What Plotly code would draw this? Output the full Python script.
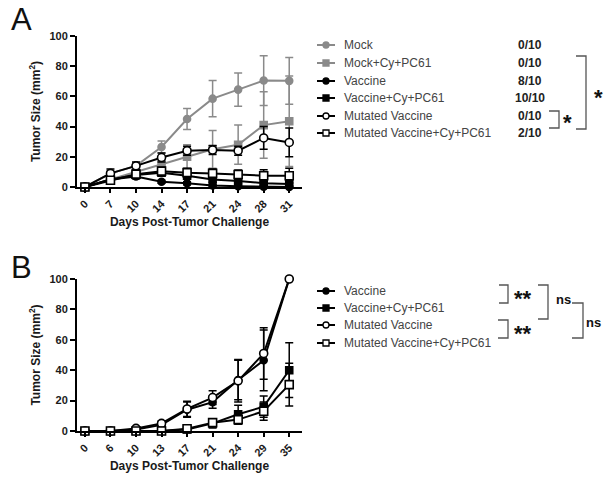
import plotly.graph_objects as go

# ---------------- Data ----------------
days_a = ["0", "7", "10", "14", "17", "21", "24", "28", "31"]
days_b = ["0", "6", "10", "13", "17", "21", "24", "29", "35"]

series_names_a = ["Mock", "Mock+Cy+PC61", "Vaccine", "Vaccine+Cy+PC61",
                  "Mutated Vaccine", "Mutated Vaccine+Cy+PC61"]
mock_a = [0, 9, 14, 26.5, 45, 58.5, 64.5, 70.5, 70.3]
mock_a_err = [0, 2, 2, 4, 7, 12, 11, 16.5, 15.5]
mockcy_a = [0, 5, 10, 15, 20, 25, 28, 41, 43.5]
mockcy_a_err = [0, 1.5, 2, 3, 8, 12.5, 13, 22, 30]
vac_a = [0, 5, 7, 3.5, 2.5, 1, 0.5, 0.2, 0]
vac_a_err = [0, 1, 1.5, 1, 1, 0.5, 0.5, 0.2, 0]
vaccy_a = [0, 5, 8, 9.5, 7.5, 5, 4, 2.5, 2]
vaccy_a_err = [0, 1.5, 2, 2, 2, 2, 1.5, 1, 1]
mut_a = [0, 9, 14, 19.5, 24, 24.5, 24, 32.5, 29.5]
mut_a_err = [0, 3, 2.5, 3, 3, 3, 3, 7.5, 9.5]
mutcy_a = [0, 4.5, 8.5, 10.5, 9.5, 9, 8.3, 7.5, 7.5]
mutcy_a_err = [0, 1.5, 2, 2.5, 3, 3, 3, 4, 5]
counts_a = ["0/10", "0/10", "8/10", "10/10", "0/10", "2/10"]

series_names_b = ["Vaccine", "Vaccine+Cy+PC61", "Mutated Vaccine", "Mutated Vaccine+Cy+PC61"]
vac_b = [0, 0, 1, 4, 14, 19, 33.5, 46.5, 100]
vac_b_err = [0, 0, 0.5, 1, 5, 4, 13, 20, 0]
vaccy_b = [0, 0, 0, 0, 1, 5, 11, 16, 40]
vaccy_b_err = [0, 0, 0, 0, 1, 3, 6, 7, 18]
mut_b = [0, 0, 1.7, 5, 14.5, 22, 33, 51, 100]
mut_b_err = [0, 0, 0.5, 1.5, 5, 4.5, 14, 17, 0]
mutcy_b = [0, 0, 0, 0, 1.5, 5.5, 7.5, 13, 30.5]
mutcy_b_err = [0, 0, 0, 0, 1.5, 2.5, 3, 6, 14]

yticks = [0, 20, 40, 60, 80, 100]

# ---------------- Styles ----------------
GRAY = "#8a8a8a"
BLACK = "#000000"
W, H = 612, 482
OFF = 0  # body margin removed by the post script below
FONT = "Liberation Sans, Arial, sans-serif"

styles = {
    "Mock": dict(color=GRAY, symbol="circle", fill=GRAY, size=7),
    "Mock+Cy+PC61": dict(color=GRAY, symbol="square", fill=GRAY, size=7),
    "Vaccine": dict(color=BLACK, symbol="circle", fill=BLACK, size=7),
    "Vaccine+Cy+PC61": dict(color=BLACK, symbol="square", fill=BLACK, size=7),
    "Mutated Vaccine": dict(color=BLACK, symbol="circle", fill="white", size=8),
    "Mutated Vaccine+Cy+PC61": dict(color=BLACK, symbol="square", fill="white", size=8),
}

fig = go.Figure()

def add_series(name, xs_labels, ys, errs, xaxis, yaxis):
    st = styles[name]
    fig.add_trace(go.Scatter(
        x=list(range(len(xs_labels))), y=ys, name=name,
        mode="lines+markers", showlegend=False,
        line=dict(color=st["color"], width=2),
        marker=dict(symbol=st["symbol"], size=st["size"], color=st["fill"],
                    line=dict(color=st["color"], width=1.6)),
        error_y=dict(type="data", array=errs, visible=True, color=st["color"],
                     thickness=1.5, width=4),
        xaxis=xaxis, yaxis=yaxis, cliponaxis=False,
    ))

data_a = [mock_a, mockcy_a, vac_a, vaccy_a, mut_a, mutcy_a]
err_a = [mock_a_err, mockcy_a_err, vac_a_err, vaccy_a_err, mut_a_err, mutcy_a_err]
for n, ys, es in zip(series_names_a, data_a, err_a):
    add_series(n, days_a, ys, es, "x", "y")

data_b = [vac_b, vaccy_b, mut_b, mutcy_b]
err_b = [vac_b_err, vaccy_b_err, mut_b_err, mutcy_b_err]
for n, ys, es in zip(series_names_b, data_b, err_b):
    add_series(n, days_b, ys, es, "x2", "y2")

def px_x(v):
    return (v - OFF) / W

def px_y(v):
    return 1 - (v - OFF) / H

xdom = [px_x(77), px_x(302)]
ydom_a = [px_y(187), px_y(36)]
ydom_b = [px_y(431), px_y(279)]

tickfont = dict(family=FONT, size=11, color="#1a1a1a", weight="bold")
titlefont = dict(family=FONT, size=12, color="#1a1a1a", weight="bold")

def xaxis_cfg(labels, anchor):
    return dict(domain=xdom, anchor=anchor, range=[-0.31, 8.5], automargin=False,
                tickmode="array", tickvals=list(range(len(labels))), ticktext=labels,
                tickangle=-45, tickfont=tickfont, showgrid=False, zeroline=False,
                showline=True, linecolor="black", linewidth=2,
                ticks="outside", ticklen=4, tickwidth=1.5, tickcolor="black",
                title=dict(text="Days Post-Tumor Challenge", font=titlefont, standoff=2))

def yaxis_cfg(dom, anchor):
    return dict(domain=dom, anchor=anchor, range=[0, 100], automargin=False,
                tickmode="array", tickvals=yticks, tickfont=tickfont,
                showgrid=False, zeroline=False, showline=True, linecolor="black",
                linewidth=2, ticks="outside", ticklen=5, tickwidth=2, tickcolor="black",
                title=dict(text="Tumor Size (mm<sup>2</sup>)", font=titlefont, standoff=6))

fig.update_layout(
    width=W, height=H, margin=dict(l=0, r=0, t=0, b=0, autoexpand=False),
    paper_bgcolor="white", plot_bgcolor="white",
    showlegend=False,
    xaxis=xaxis_cfg(days_a, "y"),
    yaxis=yaxis_cfg(ydom_a, "x"),
    xaxis2=xaxis_cfg(days_b, "y2"),
    yaxis2=yaxis_cfg(ydom_b, "x2"),
)

annotations = []
shapes = []

def text(t, x, y, size, color, bold=False, xanchor="center"):
    font = dict(family=FONT, size=size, color=color)
    if bold:
        font["weight"] = "bold"
    annotations.append(dict(text=t, x=px_x(x), y=px_y(y), xref="paper", yref="paper",
                            xanchor=xanchor, yanchor="middle", showarrow=False, font=font))

# Panel letters
text("A", 21, 20, 31, "#111")
text("B", 21, 267, 31, "#111")

# Legends (drawn as key symbols + text)
def legend_entry(name, yy):
    st = styles[name]
    shapes.append(dict(type="line", xref="paper", yref="paper",
                       x0=px_x(317), x1=px_x(335), y0=px_y(yy), y1=px_y(yy),
                       line=dict(color=st["color"], width=2)))
    r = 3
    shapes.append(dict(type="circle" if st["symbol"] == "circle" else "rect",
                       xref="paper", yref="paper",
                       x0=px_x(326 - r), x1=px_x(326 + r), y0=px_y(yy - r), y1=px_y(yy + r),
                       fillcolor=st["fill"], line=dict(color=st["color"], width=1.3)))
    text(name, 342, yy, 12, "#444", xanchor="left")

rows_a = [45, 63, 81, 98, 116, 133]
for n, yy in zip(series_names_a, rows_a):
    legend_entry(n, yy)
rows_b = [291, 308, 325, 343]
for n, yy in zip(series_names_b, rows_b):
    legend_entry(n, yy)

# Counts in panel A
for c, yy in zip(counts_a, rows_a):
    text(c, 530, yy, 12, "#222", bold=True)

BRK = "#555555"

def bracket(x0, x1, y0, y1):
    shapes.append(dict(type="path", xref="paper", yref="paper",
                       path=f"M {px_x(x0)},{px_y(y0)} L {px_x(x1)},{px_y(y0)} "
                            f"L {px_x(x1)},{px_y(y1)} L {px_x(x0)},{px_y(y1)}",
                       line=dict(color=BRK, width=1.3)))

# Panel A significance
bracket(576, 586, 56, 129)
text("*", 598, 98, 22, "#111", bold=True)
bracket(549, 559, 111, 128)
text("*", 567, 123, 22, "#111", bold=True)

# Panel B significance
bracket(499, 508, 285, 303)
text("**", 523, 298, 22, "#111", bold=True)
bracket(498, 508, 320, 338)
text("**", 523, 333, 22, "#111", bold=True)
bracket(538, 548, 285, 319)
text("ns", 563, 299, 13, "#111", bold=True)
bracket(572, 583, 303, 338)
text("ns", 593, 322, 13, "#111", bold=True)

fig.update_layout(annotations=annotations, shapes=shapes)

fig.write_html("out.html", config={"displayModeBar": False},
               post_script="document.body.style.margin='0px';")
